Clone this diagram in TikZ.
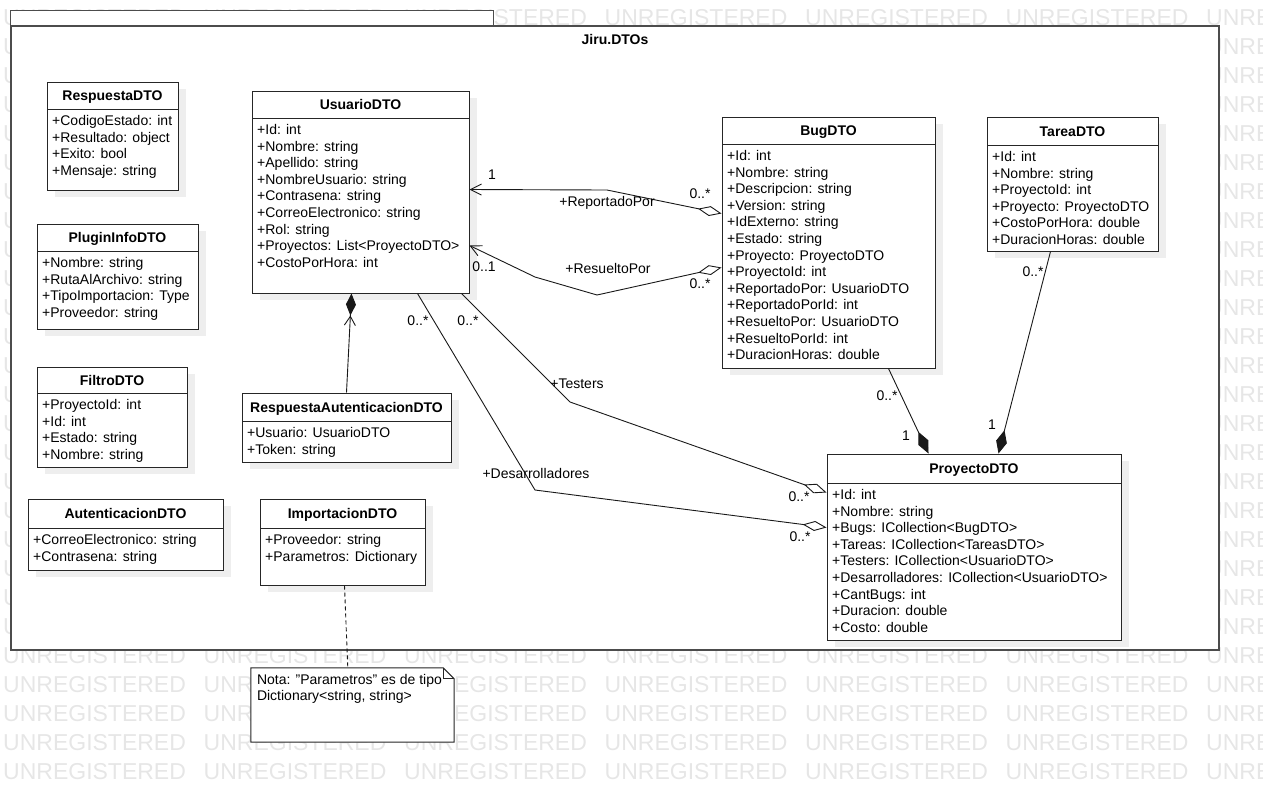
\documentclass[tikz,border=0pt]{standalone}
\usepackage{fontspec}
\setmainfont{Liberation Sans}
\usetikzlibrary{arrows.meta}

\definecolor{shadowgray}{HTML}{EEEEEE}
\definecolor{markgray}{HTML}{E6E6E6}

% class box: name, x1, y1, x2, y2, y of separator, title, attributes
\newcommand{\umlclass}[8]{%
  \fill[shadowgray] (#2+8,#3+7) rectangle (#4+8,#5+7);
  \node[classbox,minimum width=#4-#2,minimum height=#5-#3] (#1) at ({(#2+#4)/2},{(#3+#5)/2}) {};
  \draw[boxline] (#2,#6) -- (#4,#6);
  \node[classname] (#1-name) at ({(#2+#4)/2},{(#3+#6)/2+5}) {#7};
  \foreach \txt [count=\i from 0] in {#8}
    \node[classattr] (#1-a\i) at (#2+5,{#6+16.5+16.6*\i}) {\txt};
}

\begin{document}
\begin{tikzpicture}[x=1pt,y=-1pt]
	\tikzstyle{every node}=[font=\fontsize{14}{16}\selectfont]
	\tikzstyle{boxline}=[draw=black!85,line width=1pt]
	\tikzstyle{classbox}=[boxline,fill=white,rectangle,inner sep=0pt]
	\tikzstyle{classname}=[font=\bfseries\fontsize{14}{16}\selectfont,anchor=base,inner sep=0pt]
	\tikzstyle{classattr}=[anchor=base west,inner sep=0pt]
	\tikzstyle{link}=[line width=0.9pt,black!90]
	\tikzstyle{lbl}=[inner sep=0pt]
	\tikzstyle{watermark}=[anchor=west,inner sep=0pt,text=markgray,font=\fontsize{23}{23}\selectfont]
	\useasboundingbox (0,0) rectangle (1263,796);

	% watermark behind everything
	\begin{scope}
	  \clip (0,0) rectangle (1263,796);
	  \foreach \row in {0,...,26}
	    \foreach \col in {0,...,6}
	      \node[watermark] (wm-\row-\col) at (3+200.5*\col,18+29*\row) {UNREGISTERED};
	\end{scope}

	% package
	\node[draw=black!70,line width=1.2pt,fill=white,inner sep=0pt,minimum width=1208,minimum height=624] (pkg) at (615,338) {};
	\draw[draw=black!70,line width=1.2pt,fill=white] (pkg.north west) rectangle ([xshift=483pt,yshift=15pt]pkg.north west);
	\node[font=\bfseries\fontsize{14}{16}\selectfont] (pkg-name) at ([yshift=-14pt]pkg.north) {Jiru.DTOs};

	% classes
	\umlclass{resp}{47}{82}{178}{190}{109}{RespuestaDTO}{+CodigoEstado: int,+Resultado: object,+Exito: bool,+Mensaje: string}
	\umlclass{plugin}{37}{224}{198}{329}{251}{PluginInfoDTO}{+Nombre: string,+RutaAlArchivo: string,+TipoImportacion: Type,+Proveedor: string}
	\umlclass{filtro}{37}{367}{187}{467}{393}{FiltroDTO}{+ProyectoId: int,+Id: int,+Estado: string,+Nombre: string}
	\umlclass{auten}{28}{499}{223}{570}{528}{AutenticacionDTO}{+CorreoElectronico: string,+Contrasena: string}
	\umlclass{usuario}{252}{91}{469}{293}{118}{UsuarioDTO}{+Id: int,+Nombre: string,+Apellido: string,+NombreUsuario: string,+Contrasena: string,+CorreoElectronico: string,+Rol: string,+Proyectos: List<ProyectoDTO>,+CostoPorHora: int}
	\umlclass{respauth}{242}{393}{451}{462}{421}{RespuestaAutenticacionDTO}{+Usuario: UsuarioDTO,+Token: string}
	\umlclass{import}{260}{499}{425}{585}{528}{ImportacionDTO}{+Proveedor: string,+Parametros: Dictionary}
	\umlclass{bug}{722}{117}{935}{368}{144}{BugDTO}{+Id: int,+Nombre: string,+Descripcion: string,+Version: string,+IdExterno: string,+Estado: string,+Proyecto: ProyectoDTO,+ProyectoId: int,+ReportadoPor: UsuarioDTO,+ReportadoPorId: int,+ResueltoPor: UsuarioDTO,+ResueltoPorId: int,+DuracionHoras: double}
	\umlclass{tarea}{987}{117}{1158}{251}{145}{TareaDTO}{+Id: int,+Nombre: string,+ProyectoId: int,+Proyecto: ProyectoDTO,+CostoPorHora: double,+DuracionHoras: double}
	\umlclass{proy}{827}{454}{1121}{640}{483}{ProyectoDTO}{+Id: int,+Nombre: string,+Bugs: ICollection<BugDTO>,+Tareas: ICollection<TareasDTO>,+Testers: ICollection<UsuarioDTO>,+Desarrolladores: ICollection<UsuarioDTO>,+CantBugs: int,+Duracion: double,+Costo: double}

	% note
	\node[inner sep=0pt,minimum width=203,minimum height=74] (note) at (352.5,705) {};
	\draw[boxline,fill=white] (note.north west) -- ([xshift=-11pt]note.north east) -- ([yshift=-11pt]note.north east) -- (note.south east) -- (note.south west) -- cycle;
	\draw[boxline] ([xshift=-11pt]note.north east) -- ([xshift=-11pt,yshift=-11pt]note.north east) -- ([yshift=-11pt]note.north east);
	\node[anchor=north west,align=left,inner sep=0pt,font=\fontsize{14}{15.5}\selectfont] (note-text) at ([xshift=6pt,yshift=-6.5pt]note.north west) {Nota: "Parametros" es de tipo\\Dictionary<string, string>};
	\draw[link,dash pattern=on 4pt off 3pt] ([xshift=85pt]import.south west) -- ([xshift=97pt]note.north west);

	% associations with UsuarioDTO
	\draw[link,{Diamond[fill=white,length=24pt,width=10pt]}-{Straight Barb[length=11pt,width=11pt]}]
	  ([yshift=-97pt]bug.north west) -- (607,190) -- ([yshift=-99pt]usuario.north east);
	\draw[link,{Diamond[fill=white,length=24pt,width=10pt]}-{Straight Barb[length=11pt,width=11pt]}]
	  ([yshift=-151pt]bug.north west) -- (597,295) -- (535,277) -- ([yshift=-155pt]usuario.north east);
	\draw[link,-{Straight Barb[length=9pt,width=11pt] Diamond[length=22pt,width=10pt]}]
	  ([xshift=105pt]respauth.north west) -- ([xshift=100pt]usuario.south west);
	\draw[link,-{Diamond[fill=white,length=24pt,width=10pt]}]
	  ([xshift=210pt]usuario.south west) -- (570,402) -- ([yshift=-39pt]proy.north west);
	\draw[link,-{Diamond[fill=white,length=24pt,width=10pt]}]
	  ([xshift=166pt]usuario.south west) -- (535,490) -- ([yshift=-74pt]proy.north west);

	% compositions into ProyectoDTO
	\draw[link,-{Diamond[length=24pt,width=11pt]}] ([xshift=167pt]bug.south west) -- ([xshift=102pt]proy.north west);
	\draw[link,-{Diamond[length=24pt,width=11pt]}] ([xshift=64pt]tarea.south west) -- ([xshift=172pt]proy.north west);

	% multiplicities and roles
	\node[lbl] (m-rep-u) at (492,175) {1};
	\node[lbl] (m-rep-b) at (700,194) {0..*};
	\node[lbl] (r-rep) at (607,203) {+ReportadoPor};
	\node[lbl] (m-res-u) at (484,267) {0..1};
	\node[lbl] (r-res) at (608,268) {+ResueltoPor};
	\node[lbl] (m-res-b) at (700,284) {0..*};
	\node[lbl] (m-des-u) at (418,321) {0..*};
	\node[lbl] (m-tes-u) at (468,321) {0..*};
	\node[lbl] (r-tes) at (577,384) {+Testers};
	\node[lbl] (r-des) at (536,473) {+Desarrolladores};
	\node[lbl] (m-tes-p) at (799,497) {0..*};
	\node[lbl] (m-des-p) at (800,537) {0..*};
	\node[lbl] (m-bug-b) at (887,396) {0..*};
	\node[lbl] (m-bug-p) at (906,436) {1};
	\node[lbl] (m-tar-t) at (1033,272) {0..*};
	\node[lbl] (m-tar-p) at (992,425) {1};
\end{tikzpicture}
\end{document}
